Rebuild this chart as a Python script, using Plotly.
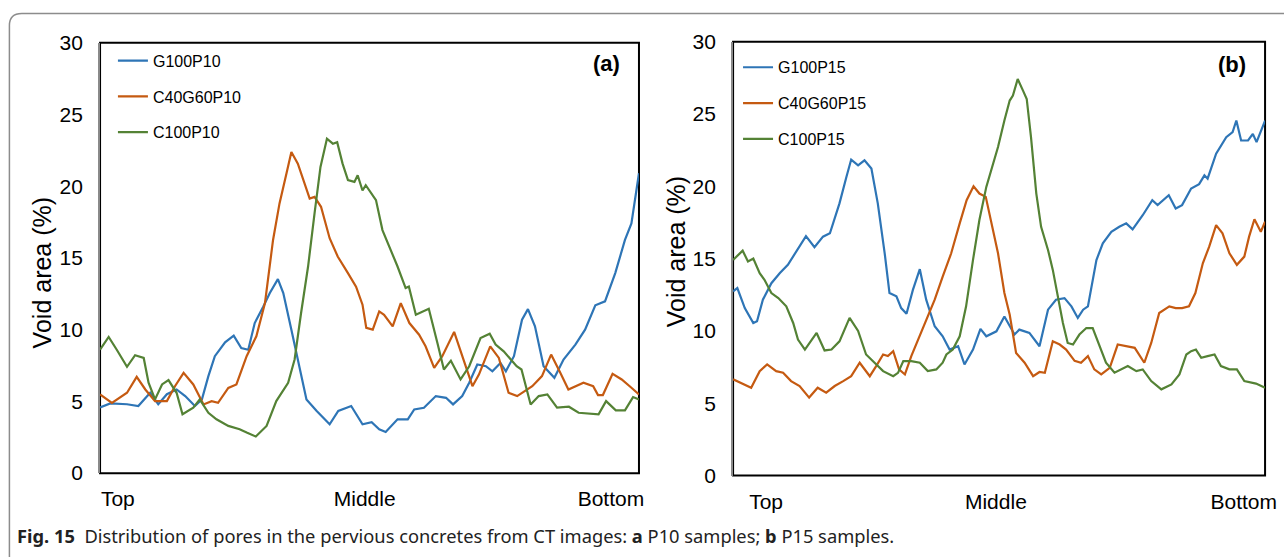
import plotly.graph_objects as go

# ---------------- data (depth position in % of specimen height, void area %) ----------------
G100P10 = [(0,4.58),(1.9,4.86),(5,4.8),(7.1,4.68),(9.3,5.6),(10.8,4.8),(12.4,5.5),(14.2,5.83),(15.8,5.37),(17.6,4.68),
           (18.9,5.14),(20.1,6.76),(21.3,8.15),(23.2,9.12),(24.8,9.58),(26.2,8.72),(27.5,8.6),(28.7,10.46),(30.3,11.62),
           (31.5,12.55),(33.0,13.52),(34.0,12.55),(35.5,10.0),(36.8,7.69),(38.3,5.14),(40.2,4.33),(42.6,3.4),(44.2,4.33),
           (46.6,4.68),(48.7,3.4),(50.4,3.55),(51.8,3.06),(53.0,2.87),(55.2,3.75),(57.1,3.75),(58.3,4.44),(60.1,4.56),
           (62.3,5.37),(64.2,5.25),(65.5,4.79),(67.2,5.37),(68.5,6.3),(70.0,7.57),(71.6,7.45),(72.8,7.1),(74.3,7.68),
           (75.3,7.1),(76.8,8.15),(78.3,10.69),(79.4,11.43),(80.7,10.23),(82.3,7.45),(84.3,6.64),(86.0,7.92),(88.2,8.96),
           (90.0,10.0),(91.9,11.7),(93.7,11.97),(95.6,13.94),(97.4,16.25),(98.6,17.4),(100,20.9)]
C40G60P10 = [(0,5.49),(2.2,4.9),(5,5.6),(6.8,6.71),(8.4,5.83),(10.2,5.02),(12.4,5.02),(13.9,6.06),(15.5,6.99),(17.3,6.18),
             (19.2,4.79),(20.7,5.02),(21.9,4.9),(23.8,5.94),(25.3,6.18),(27.2,8.15),(29.0,9.54),(30.6,11.85),(32.1,16.25),
             (33.3,18.8),(34.6,20.9),(35.5,22.38),(36.7,21.57),(37.9,20.3),(38.9,19.14),(39.8,19.25),(41.0,18.56),
             (42.6,16.37),(44.1,15.1),(46.0,13.94),(47.5,13.0),(48.7,11.74),(49.4,10.12),(50.6,10.0),(51.8,11.27),
             (52.7,11.04),(54.3,10.23),(55.8,11.85),(57.4,10.46),(59.2,9.65),(60.4,8.84),(62.0,7.34),(63.5,8.15),
             (65.7,9.84),(67.2,8.15),(69.1,6.06),(70.3,6.87),(72.4,8.84),(74.0,8.03),(75.8,5.6),(77.4,5.37),(78.9,5.72),
             (80.2,6.06),(82.0,6.76),(83.7,8.26),(85.4,6.99),(86.9,5.83),(89.7,6.3),(91.5,6.06),(92.4,5.44),(93.3,5.44),
             (95.1,6.92),(96.8,6.53),(98.6,5.95),(100,5.49)]
C100P10 = [(0,8.6),(1.6,9.49),(3.1,8.6),(5.0,7.41),(6.5,8.22),(8.1,8.03),(9.0,6.3),(10.2,5.14),(11.5,6.18),(12.7,6.48),
           (14.2,5.6),(15.3,4.1),(17.3,4.56),(18.5,5.14),(20.1,4.21),(21.6,3.75),(23.8,3.29),(25.9,3.06),(27.2,2.83),
           (28.9,2.55),(30.9,3.29),(32.7,5.02),(34.9,6.3),(36.1,7.92),(37.3,11.16),(38.6,14.4),(39.8,18.1),(40.9,21.34),
           (42.1,23.31),(43.2,22.96),(44.0,23.07),(45.0,21.57),(46.0,20.42),(47.2,20.3),(47.8,20.76),(48.7,19.7),
           (49.3,20.07),(50.3,19.5),(51.2,19.03),(52.4,16.94),(53.7,15.78),(55.2,14.4),(56.7,12.9),(57.3,13.0),
           (58.6,11.04),(61.0,11.46),(62.6,9.07),(63.8,7.22),(65.1,7.84),(66.9,6.53),(68.5,7.45),(70.6,9.42),(72.3,9.72),
           (73.4,8.96),(74.9,8.49),(77.3,7.45),(78.2,7.22),(79.9,4.79),(81.4,5.37),(83.0,5.49),(84.8,4.56),(87.0,4.63),
           (88.8,4.21),(92.5,4.1),(93.9,5.02),(95.7,4.38),(97.4,4.38),(98.9,5.3),(100,5.14)]

G100P15 = [(0,12.73),(0.8,12.96),(2.2,11.58),(3.8,10.55),(4.5,10.67),(5.6,12.16),(7.2,13.3),(8.8,14.0),(10.3,14.57),
           (11.9,15.48),(13.7,16.56),(15.3,15.79),(16.9,16.52),(18.2,16.75),(20.0,18.82),(21.3,20.65),(22.2,21.85),
           (23.5,21.45),(24.7,21.8),(26.0,21.23),(27.2,18.82),(28.5,15.37),(29.4,12.62),(30.7,12.39),(31.6,11.58),
           (32.6,11.19),(33.8,12.84),(35.1,14.27),(36.3,12.16),(37.9,10.32),(39.4,9.63),(40.7,8.71),(42.3,8.94),
           (43.5,7.68),(45.1,8.71),(46.5,10.14),(47.6,9.63),(49.5,9.97),(51.0,11.0),(52.9,9.75),(53.8,10.09),
           (55.7,9.86),(57.6,8.94),(59.2,11.47),(60.7,12.16),(62.3,12.27),(63.6,11.7),(64.8,10.9),(65.8,11.47),
           (66.7,11.7),(68.3,14.9),(69.5,16.06),(71.1,16.86),(72.6,17.2),(73.9,17.44),(75.1,17.03),(77.0,18.0),
           (78.8,19.04),(79.8,18.7),(81.9,19.39),(83.2,18.47),(84.4,18.7),(86.1,19.85),(87.6,20.15),(88.6,20.76),
           (89.2,20.53),(90.8,22.26),(92.7,23.4),(93.9,23.75),(94.6,24.55),(95.5,23.17),(96.8,23.17),(97.7,23.63),
           (98.4,23.06),(100,24.55)]
C40G60P15 = [(0,6.65),(1.9,6.3),(3.4,6.07),(5.0,7.22),(6.4,7.68),(8.1,7.22),(9.4,7.11),(10.9,6.53),(12.5,6.19),
             (14.3,5.39),(15.9,6.07),(17.5,5.73),(19.1,6.19),(20.7,6.53),(22.2,6.87),(23.8,7.8),(25.7,6.87),(26.9,7.57),
             (28.2,8.37),(29.1,8.26),(30.1,8.6),(31.2,7.34),(32.3,6.99),(33.5,8.26),(34.8,9.4),(36.3,10.78),(37.9,12.16),
             (39.4,13.76),(41.0,15.37),(42.6,17.44),(43.9,19.04),(45.2,20.0),(46.3,19.5),(47.5,19.27),(48.5,17.67),
             (49.8,15.37),(51.0,12.62),(52.0,11.12),(53.2,8.48),(54.8,7.8),(56.4,6.87),(57.6,7.16),(58.6,7.11),
             (60.1,9.28),(61.4,9.06),(62.6,8.71),(64.2,7.93),(65.4,7.8),(66.7,8.26),(67.9,7.34),(69.2,6.99),(70.8,7.45),
             (72.3,9.06),(73.9,8.94),(75.5,8.83),(77.3,7.8),(78.6,9.17),(80.1,11.24),(82.0,11.7),(83.2,11.58),
             (84.4,11.58),(85.7,11.7),(86.9,12.62),(88.3,14.68),(89.5,15.83),(90.8,17.32),(92.0,16.75),(93.3,15.37),
             (94.7,14.57),(96.1,15.14),(97.0,16.52),(98.0,17.72),(99.2,16.86),(100,17.55)]
C100P15 = [(0,14.91),(1.8,15.55),(2.8,14.8),(3.8,15.0),(5.0,14.0),(5.9,13.54),(7.2,12.62),(8.5,12.27),(10.0,11.7),
           (11.3,10.55),(12.2,9.4),(13.5,8.71),(15.7,9.86),(17.2,8.65),(18.5,8.71),(20.0,9.28),(21.9,10.9),(23.5,10.0),
           (25.0,8.37),(26.3,7.91),(28.2,7.22),(30.1,6.87),(31.0,7.1),(32.0,7.91),(33.5,7.91),(35.1,7.8),(36.6,7.22),
           (38.2,7.34),(39.4,7.8),(40.1,8.37),(41.3,8.71),(42.6,9.63),(43.8,11.7),(45.1,14.91),(46.3,17.67),
           (47.6,19.96),(48.8,21.57),(49.8,22.72),(51.0,24.55),(52.0,25.93),(52.6,26.27),(53.5,27.42),(54.5,26.62),
           (55.2,26.04),(56.0,23.4),(57.0,19.5),(57.9,17.2),(59.2,15.6),(60.1,14.22),(61.1,12.16),(62.0,10.55),
           (62.9,9.17),(63.9,9.06),(65.1,9.75),(66.4,10.2),(67.6,10.2),(68.9,8.94),(70.1,7.8),(71.7,7.11),(74.2,7.57),
           (75.8,7.22),(77.0,7.34),(78.6,6.53),(80.5,5.96),(82.4,6.3),(83.9,6.99),(85.2,8.37),(86.1,8.6),(87.0,8.71),
           (88.0,8.14),(89.2,8.26),(90.5,8.37),(91.7,7.57),(93.3,7.34),(94.7,7.34),(96.1,6.53),(98.3,6.36),(100,6.07)]

X_LABELS = ["Top", "Middle", "Bottom"]
Y_TICKS = [0, 5, 10, 15, 20, 25, 30]
PANEL_A = [("G100P10", G100P10), ("C40G60P10", C40G60P10), ("C100P10", C100P10)]
PANEL_B = [("G100P15", G100P15), ("C40G60P15", C40G60P15), ("C100P15", C100P15)]

# ---------------- style / layout ----------------
W, H = 1284, 557
COLORS = ["#2E75B6", "#C55A11", "#548235"]
SANS = "Liberation Sans, Arial, sans-serif"
TICK_FONT = dict(family=SANS, size=21, color="#000")
LEG_FONT = dict(family=SANS, size=16, color="#000")

def px(x):
    return x / W

def py(y):
    return 1 - y / H

fig = go.Figure()
for i, (name, pts) in enumerate(PANEL_A):
    fig.add_trace(go.Scatter(x=[p[0] for p in pts], y=[p[1] for p in pts], mode="lines", name=name,
                             line=dict(color=COLORS[i], width=2.2), xaxis="x", yaxis="y",
                             legend="legend", legendgroup="a%d" % i))
for i, (name, pts) in enumerate(PANEL_B):
    fig.add_trace(go.Scatter(x=[p[0] for p in pts], y=[p[1] for p in pts], mode="lines", name=name,
                             line=dict(color=COLORS[i], width=2.2), xaxis="x2", yaxis="y2",
                             legend="legend2", legendgroup="b%d" % i))

ax_common = dict(range=[0, 100], showgrid=False, zeroline=False, showline=False, ticks="",
                 tickfont=TICK_FONT, tickmode="array", ticktext=X_LABELS, ticklabelstandoff=11)
ay_common = dict(range=[0, 30], showgrid=False, zeroline=False, showline=True, linecolor="#8a8a8a",
                 linewidth=2, ticks="", tickfont=TICK_FONT, tickmode="array", tickvals=Y_TICKS,
                 ticklabelstandoff=11)

legend_common = dict(font=LEG_FONT, bgcolor="rgba(0,0,0,0)", borderwidth=0, tracegroupgap=12,
                     xanchor="left", yanchor="top", itemclick=False)

fig.update_layout(
    width=W, height=H, margin=dict(l=0, r=0, t=0, b=0), autosize=False,
    paper_bgcolor="white", plot_bgcolor="white",
    xaxis=dict(domain=[px(101), px(645)], anchor="y", tickvals=[3.3, 49.1, 94.8], **ax_common),
    yaxis=dict(domain=[py(481), py(32)], anchor="x", **ay_common),
    xaxis2=dict(domain=[px(740), px(1277)], anchor="y2", tickvals=[6.2, 49.4, 96.0], **ax_common),
    yaxis2=dict(domain=[py(483.5), py(31)], anchor="x2", **ay_common),
    legend=dict(x=px(114), y=py(33), **legend_common),
    legend2=dict(x=px(745), y=py(40), **legend_common),
    showlegend=True,
)

# plot-area frames
for xr, yr in (("x", "y"), ("x2", "y2")):
    fig.add_shape(type="rect", xref=xr + " domain", yref=yr + " domain", x0=0, x1=1, y0=0, y1=1,
                  line=dict(color="#000", width=2), layer="below")

# outer rounded border of the figure box
fig.add_shape(type="path", xref="paper", yref="paper",
              path="M %f %f L %f %f Q %f %f %f %f L %f %f" % (
                  px(9.5), py(575), px(9.5), py(14), px(9.5), py(1.5), px(22), py(1.5), px(1300), py(1.5)),
              line=dict(color="#8c8c8c", width=1.5))

TITLE_FONT = dict(family=SANS, size=25, color="#000")
LABEL_FONT = dict(family=SANS, size=22, color="#000")
ann = []
ann.append(dict(text="Void area (%)", x=px(42), y=py(272), textangle=-90, font=TITLE_FONT))
ann.append(dict(text="Void area (%)", x=px(682), y=py(250), textangle=-90, font=TITLE_FONT))
ann.append(dict(text="<b>(a)</b>", x=px(612), y=py(54), font=LABEL_FONT))
ann.append(dict(text="<b>(b)</b>", x=px(1244), y=py(55), font=LABEL_FONT))
for a in ann:
    a.update(xref="paper", yref="paper", xanchor="center", yanchor="middle", showarrow=False)
ann.append(dict(text="<b>Fig. 15</b>  Distribution of pores in the pervious concretes from CT images: "
                     "<b>a</b> P10 samples; <b>b</b> P15 samples.",
                x=px(15), y=py(546), xref="paper", yref="paper", xanchor="left", yanchor="middle",
                showarrow=False, font=dict(family="Noto Sans, Open Sans, sans-serif", size=18.3, color="#222")))
fig.update_layout(annotations=ann)

fig.write_html("out.html")
